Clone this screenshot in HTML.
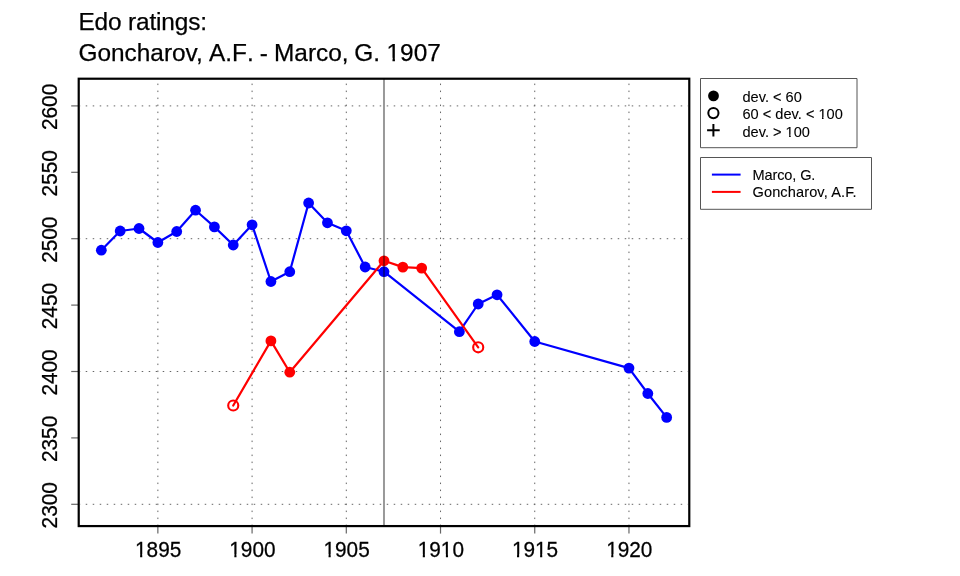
<!DOCTYPE html>
<html><head><meta charset="utf-8"><style>
html,body{margin:0;padding:0;background:#fff;width:960px;height:576px;overflow:hidden}
svg{display:block;will-change:transform}
text{font-family:"Liberation Sans",sans-serif;fill:#000;stroke:#000;stroke-width:0.25px}
.g{stroke:#666;stroke-width:1;stroke-dasharray:1.5 5.5}
.t{stroke:#666;stroke-width:1.2}
.ax{font-size:20.8px}
.ti{font-size:24.4px}
.lg{font-size:14.6px;stroke-width:0.1px}
</style></head><body>
<svg width="960" height="576" viewBox="0 0 960 576">
<defs><clipPath id="pc"><rect x="79.9" y="79.9" width="608.2" height="445"/></clipPath></defs><g clip-path="url(#pc)">
<line x1="78.72" y1="504.30" x2="689.28" y2="504.30" class="g"/>
<line x1="78.72" y1="371.50" x2="689.28" y2="371.50" class="g"/>
<line x1="78.72" y1="238.70" x2="689.28" y2="238.70" class="g"/>
<line x1="78.72" y1="105.90" x2="689.28" y2="105.90" class="g"/>
<line x1="157.86" y1="526.08" x2="157.86" y2="78.72" class="g"/>
<line x1="252.08" y1="526.08" x2="252.08" y2="78.72" class="g"/>
<line x1="346.30" y1="526.08" x2="346.30" y2="78.72" class="g"/>
<line x1="440.52" y1="526.08" x2="440.52" y2="78.72" class="g"/>
<line x1="534.74" y1="526.08" x2="534.74" y2="78.72" class="g"/>
<line x1="628.96" y1="526.08" x2="628.96" y2="78.72" class="g"/>
</g>
<line x1="71.22" y1="504.30" x2="78.72" y2="504.30" class="t"/>
<line x1="71.22" y1="437.90" x2="78.72" y2="437.90" class="t"/>
<line x1="71.22" y1="371.50" x2="78.72" y2="371.50" class="t"/>
<line x1="71.22" y1="305.10" x2="78.72" y2="305.10" class="t"/>
<line x1="71.22" y1="238.70" x2="78.72" y2="238.70" class="t"/>
<line x1="71.22" y1="172.30" x2="78.72" y2="172.30" class="t"/>
<line x1="71.22" y1="105.90" x2="78.72" y2="105.90" class="t"/>
<line x1="157.86" y1="526.08" x2="157.86" y2="533.58" class="t"/>
<line x1="252.08" y1="526.08" x2="252.08" y2="533.58" class="t"/>
<line x1="346.30" y1="526.08" x2="346.30" y2="533.58" class="t"/>
<line x1="440.52" y1="526.08" x2="440.52" y2="533.58" class="t"/>
<line x1="534.74" y1="526.08" x2="534.74" y2="533.58" class="t"/>
<line x1="628.96" y1="526.08" x2="628.96" y2="533.58" class="t"/>
<polyline points="101.33,250.20 120.18,231.00 139.02,228.50 157.86,242.50 176.71,231.50 195.55,210.20 214.40,226.90 233.24,245.00 252.08,224.80 270.93,281.50 289.77,271.70 308.62,203.00 327.46,222.80 346.30,230.80 365.15,267.00 383.99,271.70 459.37,331.70 478.21,304.00 497.06,294.80 534.74,341.50 628.96,368.10 647.81,393.50 666.65,417.40" fill="none" stroke="#0000ff" stroke-width="2.2" stroke-linejoin="round" stroke-linecap="round"/>
<circle cx="101.33" cy="250.20" r="5.4" fill="#0000ff"/>
<circle cx="120.18" cy="231.00" r="5.4" fill="#0000ff"/>
<circle cx="139.02" cy="228.50" r="5.4" fill="#0000ff"/>
<circle cx="157.86" cy="242.50" r="5.4" fill="#0000ff"/>
<circle cx="176.71" cy="231.50" r="5.4" fill="#0000ff"/>
<circle cx="195.55" cy="210.20" r="5.4" fill="#0000ff"/>
<circle cx="214.40" cy="226.90" r="5.4" fill="#0000ff"/>
<circle cx="233.24" cy="245.00" r="5.4" fill="#0000ff"/>
<circle cx="252.08" cy="224.80" r="5.4" fill="#0000ff"/>
<circle cx="270.93" cy="281.50" r="5.4" fill="#0000ff"/>
<circle cx="289.77" cy="271.70" r="5.4" fill="#0000ff"/>
<circle cx="308.62" cy="203.00" r="5.4" fill="#0000ff"/>
<circle cx="327.46" cy="222.80" r="5.4" fill="#0000ff"/>
<circle cx="346.30" cy="230.80" r="5.4" fill="#0000ff"/>
<circle cx="365.15" cy="267.00" r="5.4" fill="#0000ff"/>
<circle cx="383.99" cy="271.70" r="5.4" fill="#0000ff"/>
<circle cx="459.37" cy="331.70" r="5.4" fill="#0000ff"/>
<circle cx="478.21" cy="304.00" r="5.4" fill="#0000ff"/>
<circle cx="497.06" cy="294.80" r="5.4" fill="#0000ff"/>
<circle cx="534.74" cy="341.50" r="5.4" fill="#0000ff"/>
<circle cx="628.96" cy="368.10" r="5.4" fill="#0000ff"/>
<circle cx="647.81" cy="393.50" r="5.4" fill="#0000ff"/>
<circle cx="666.65" cy="417.40" r="5.4" fill="#0000ff"/>
<polyline points="233.24,405.50 270.93,340.90 289.77,372.20 383.99,260.80 402.84,267.10 421.68,268.10 478.21,347.30" fill="none" stroke="#ff0000" stroke-width="2.2" stroke-linejoin="round" stroke-linecap="round"/>
<circle cx="233.24" cy="405.50" r="5.05" fill="none" stroke="#ff0000" stroke-width="2.1"/>
<circle cx="270.93" cy="340.90" r="5.4" fill="#ff0000"/>
<circle cx="289.77" cy="372.20" r="5.4" fill="#ff0000"/>
<circle cx="383.99" cy="260.80" r="5.4" fill="#ff0000"/>
<circle cx="402.84" cy="267.10" r="5.4" fill="#ff0000"/>
<circle cx="421.68" cy="268.10" r="5.4" fill="#ff0000"/>
<circle cx="478.21" cy="347.30" r="5.05" fill="none" stroke="#ff0000" stroke-width="2.1"/>
<line x1="383.99" y1="78.72" x2="383.99" y2="526.08" stroke="#000" stroke-opacity="0.40" stroke-width="2"/>
<rect x="78.72" y="78.72" width="610.56" height="447.36" fill="none" stroke="#000" stroke-width="2.2"/>
<text transform="translate(158.16,557) scale(1,1.085)" class="ax" text-anchor="middle">1895</text>
<text transform="translate(252.38,557) scale(1,1.085)" class="ax" text-anchor="middle">1900</text>
<text transform="translate(346.60,557) scale(1,1.085)" class="ax" text-anchor="middle">1905</text>
<text transform="translate(440.82,557) scale(1,1.085)" class="ax" text-anchor="middle">1910</text>
<text transform="translate(535.04,557) scale(1,1.085)" class="ax" text-anchor="middle">1915</text>
<text transform="translate(629.26,557) scale(1,1.085)" class="ax" text-anchor="middle">1920</text>
<text transform="translate(56.6,505.30) rotate(-90) scale(1,1.085)" class="ax" text-anchor="middle">2300</text>
<text transform="translate(56.6,438.90) rotate(-90) scale(1,1.085)" class="ax" text-anchor="middle">2350</text>
<text transform="translate(56.6,372.50) rotate(-90) scale(1,1.085)" class="ax" text-anchor="middle">2400</text>
<text transform="translate(56.6,306.10) rotate(-90) scale(1,1.085)" class="ax" text-anchor="middle">2450</text>
<text transform="translate(56.6,239.70) rotate(-90) scale(1,1.085)" class="ax" text-anchor="middle">2500</text>
<text transform="translate(56.6,173.30) rotate(-90) scale(1,1.085)" class="ax" text-anchor="middle">2550</text>
<text transform="translate(56.6,106.90) rotate(-90) scale(1,1.085)" class="ax" text-anchor="middle">2600</text>
<text transform="translate(78.5,29.5) scale(1,1.0)" class="ti" letter-spacing="-0.15">Edo ratings:</text>
<text transform="translate(0,60.5) scale(1,1.0)" class="ti"><tspan x="78.5">Goncharov, </tspan><tspan x="209.0" style="font-kerning:none">A.F. </tspan><tspan x="259.7">- </tspan><tspan x="274.0">Marco, </tspan><tspan x="354.3">G. </tspan><tspan x="386.5">1907</tspan></text>
<rect x="700.5" y="78.5" width="156.5" height="69.2" fill="none" stroke="#555" stroke-width="1" stroke-linejoin="round"/>
<circle cx="713.5" cy="95.9" r="5.4" fill="#000"/>
<circle cx="713.4" cy="113.1" r="5.1" fill="none" stroke="#000" stroke-width="2"/>
<path d="M707.1 130.3 H719.7 M713.4 124 V136.6" stroke="#000" stroke-width="2"/>
<text transform="translate(742.5,101.5) scale(1,1.05)" class="lg">dev. &lt; 60</text>
<text transform="translate(742.5,119) scale(1,1.05)" class="lg">60 &lt; dev. &lt; 100</text>
<text transform="translate(742.5,136.5) scale(1,1.05)" class="lg">dev. &gt; 100</text>
<rect x="700.5" y="157.5" width="171" height="51.8" fill="none" stroke="#555" stroke-width="1" stroke-linejoin="round"/>
<line x1="711.9" y1="174.6" x2="740.6" y2="174.6" stroke="#0000ff" stroke-width="2"/>
<line x1="711.9" y1="191.9" x2="740.6" y2="191.9" stroke="#ff0000" stroke-width="2"/>
<text transform="translate(752.5,179.6) scale(1,1.05)" class="lg" letter-spacing="-0.14">Marco, G.</text>
<text transform="translate(752.5,197.4) scale(1,1.05)" class="lg" letter-spacing="0.1">Goncharov, A.F.</text>
<g transform="translate(158.16,557) scale(1,1.085)"><rect x="-22.716" y="-2.454" width="4.674" height="4.154" fill="#fff"/><rect x="-15.904" y="-2.454" width="4.055" height="4.154" fill="#fff"/></g>
<g transform="translate(252.38,557) scale(1,1.085)"><rect x="-22.716" y="-2.454" width="4.674" height="4.154" fill="#fff"/><rect x="-15.904" y="-2.454" width="4.055" height="4.154" fill="#fff"/></g>
<g transform="translate(346.60,557) scale(1,1.085)"><rect x="-22.716" y="-2.454" width="4.674" height="4.154" fill="#fff"/><rect x="-15.904" y="-2.454" width="4.055" height="4.154" fill="#fff"/></g>
<g transform="translate(440.82,557) scale(1,1.085)"><rect x="-22.716" y="-2.454" width="4.674" height="4.154" fill="#fff"/><rect x="-15.904" y="-2.454" width="4.055" height="4.154" fill="#fff"/></g>
<g transform="translate(440.82,557) scale(1,1.085)"><rect x="0.391" y="-2.454" width="4.674" height="4.154" fill="#fff"/><rect x="7.204" y="-2.454" width="4.055" height="4.154" fill="#fff"/></g>
<g transform="translate(535.04,557) scale(1,1.085)"><rect x="-22.716" y="-2.454" width="4.674" height="4.154" fill="#fff"/><rect x="-15.904" y="-2.454" width="4.055" height="4.154" fill="#fff"/></g>
<g transform="translate(535.04,557) scale(1,1.085)"><rect x="0.391" y="-2.454" width="4.674" height="4.154" fill="#fff"/><rect x="7.204" y="-2.454" width="4.055" height="4.154" fill="#fff"/></g>
<g transform="translate(629.26,557) scale(1,1.085)"><rect x="-22.716" y="-2.454" width="4.674" height="4.154" fill="#fff"/><rect x="-15.904" y="-2.454" width="4.055" height="4.154" fill="#fff"/></g>
<g transform="translate(0,60.5) scale(1,1.0)"><rect x="386.977" y="-2.723" width="5.509" height="4.423" fill="#fff"/><rect x="394.942" y="-2.723" width="4.782" height="4.423" fill="#fff"/></g>
<g transform="translate(742.5,119) scale(1,1.05)"><rect x="76.223" y="-1.991" width="3.236" height="3.691" fill="#fff"/><rect x="81.050" y="-1.991" width="2.801" height="3.691" fill="#fff"/></g>
<g transform="translate(742.5,136.5) scale(1,1.05)"><rect x="43.382" y="-1.991" width="3.236" height="3.691" fill="#fff"/><rect x="48.209" y="-1.991" width="2.801" height="3.691" fill="#fff"/></g>
</svg>
</body></html>
